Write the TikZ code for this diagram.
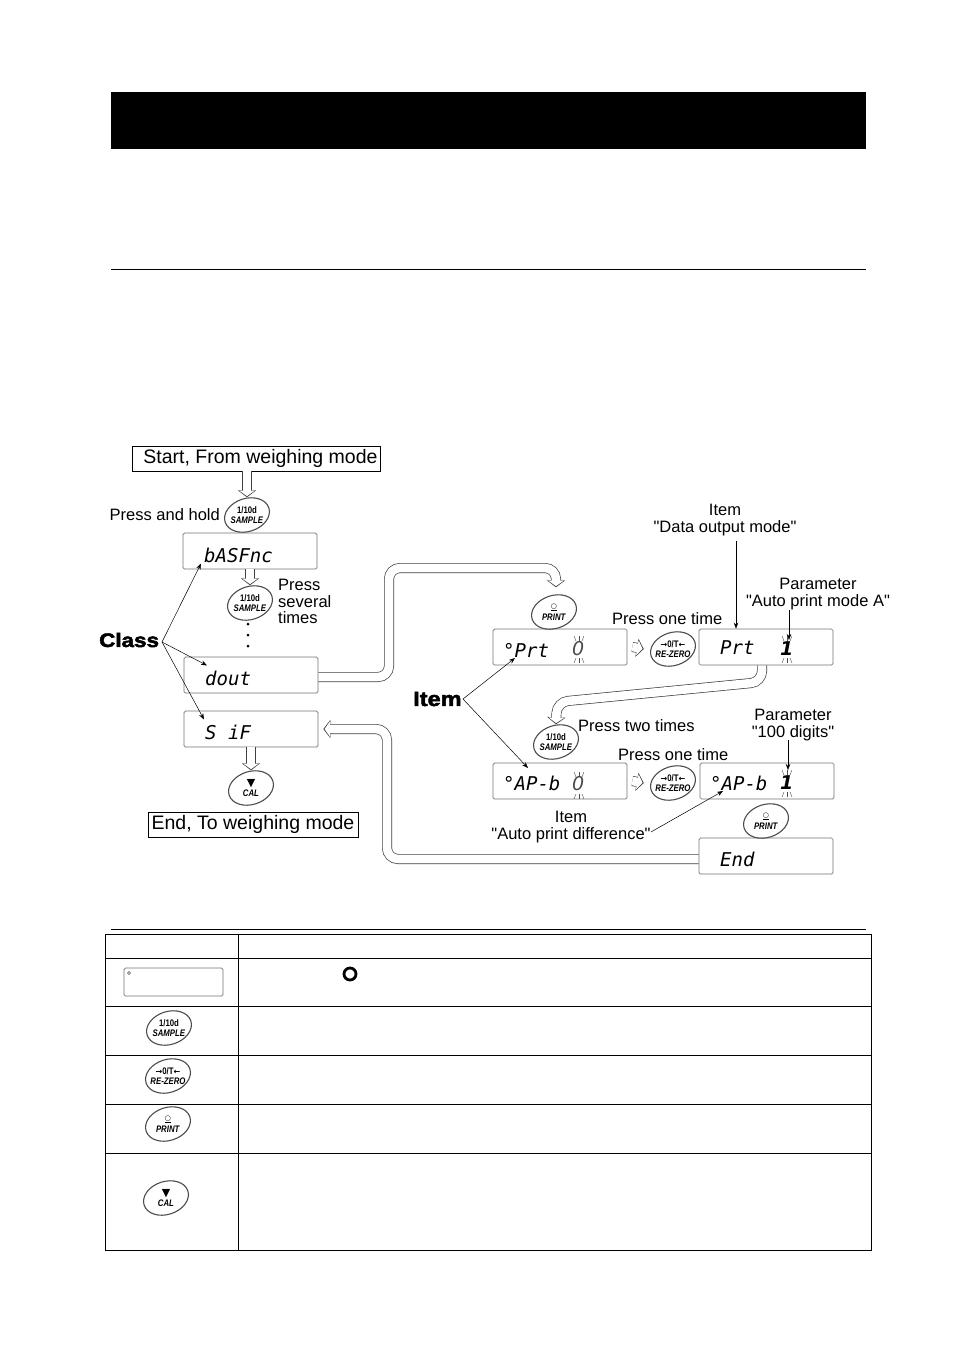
\documentclass[tikz,border=0pt]{standalone}
\usepackage{fontspec}
\setmainfont[Ligatures=TeXOff]{Liberation Sans}
\newfontfamily\segfont{DejaVu Sans Mono}
\newfontfamily\symfont{DejaVu Sans}
\newfontfamily\blackfont[FakeBold=2.5,FakeStretch=1.15]{Liberation Sans Bold}
\newfontfamily\btnfont[FakeStretch=.82]{Liberation Sans}
\usetikzlibrary{arrows.meta}
\newcommand{\sampletext}{1/10d\\\textit{SAMPLE}}
\newcommand{\rezerotext}{{\fontsize{8}{8}\symfont →}0/T{\fontsize{8}{8}\symfont ←}\\\textit{RE-ZERO}}
\newcommand{\printtext}{{\fontsize{7}{7}\symfont\underline{○}}\\[1.5pt]\textit{PRINT}}
\newcommand{\caltext}{{\fontsize{11}{11}\symfont ▼}\\\textit{CAL}}
\tikzset{
    display/.style={draw=black!55, line width=.7pt, rounded corners=1.5pt, fill=white, inner sep=0pt, minimum width=134pt, minimum height=36pt},
    segtext/.style={anchor=west, inner sep=0pt, font=\fontsize{19}{19}\segfont\itshape},
    digitzero/.style={anchor=west, inner sep=0pt, black!70, font=\fontsize{19}{19}\symfont\itshape},
    digitone/.style={anchor=west, inner sep=0pt, font=\fontsize{19}{19}\symfont\bfseries\itshape},
    btn/.style={inner sep=0pt, minimum width=46pt, minimum height=35pt, align=center, font=\fontsize{9.5}{10.5}\btnfont\bfseries},
    btnring/.style={draw=black!70, line width=1.1pt},
    label/.style={inner sep=0pt, align=center, font=\fontsize{16.5}{16.5}\selectfont},
    modebox/.style={draw, line width=.8pt, inner sep=0pt, font=\fontsize{19.5}{19.5}\selectfont},
    pipe/.style={line width=10pt, draw=black!75, rounded corners=11pt, -{Triangle[length=7pt,width=18pt]},
        postaction={draw=white, line width=8.6pt, shorten >=1.2pt, -{Triangle[length=5.4pt,width=15pt]}}},
    pointer/.style={line width=.5pt, -{Stealth[length=6pt,width=4.5pt]}},
    blinktick/.style={line width=.4pt, black!70},
    tablerule/.style={line width=.8pt},
}
\begin{document}
\begin{tikzpicture}[x=1pt, y=-1pt]
        \useasboundingbox (0,0) rectangle (954,1350);
        \fill (111,92) rectangle (866,149);
        \draw[tablerule] (111,269) -- (866,269);
        \draw[tablerule] (111,929) -- (866,929);

        \node[modebox, minimum width=248pt, minimum height=25pt] at (256,458.5) (start) {\hspace{9pt}\raisebox{-1.5pt}{Start, From weighing mode}};
        \node[modebox, minimum width=210pt, minimum height=25pt] at (253,824.5) (finish) {\raisebox{-1pt}{End, To weighing mode}};

        \node[display] at (250,551)   (basfnc) {};
        \node[display] at (251,675)   (dout) {};
        \node[display] at (251,729)   (sif) {};
        \node[display] at (560,647)   (prtzero) {};
        \node[display] at (766,647)   (prtone) {};
        \node[display] at (560,781)   (apbzero) {};
        \node[display] at (767,781)   (apbone) {};
        \node[display] at (766,856)   (endbox) {};

        \node[segtext] at (204,555) (tbasfnc) {bASFnc};
        \node[segtext] at (205,678) (tdout) {dout};
        \node[segtext] at (205,732) (tsif) {S iF};
        \node[segtext] at (503,650) (tprtzero) {°Prt};
        \node[segtext] at (720,648) (tprtone) {Prt};
        \node[segtext] at (503,783) (tapbzero) {°AP-b};
        \node[segtext] at (710,783) (tapbone) {°AP-b};
        \node[segtext] at (720,859) (tend) {End};
        \node[digitzero] at (572,649) (pzero) {0};
        \node[digitone] at (780,649) (pone) {1};
        \node[digitzero] at (572,784) (qzero) {0};
        \node[digitone] at (780,783) (qone) {1};

        \node[btn] at (247,515)   (sampleA) {\sampletext};
        \node[btn] at (250,603)   (sampleB) {\sampletext};
        \node[btn] at (251,788)   (calA) {\caltext};
        \node[btn] at (554,612)   (printA) {\printtext};
        \node[btn] at (673,649)   (rezeroA) {\rezerotext};
        \node[btn] at (556,742)   (sampleC) {\sampletext};
        \node[btn] at (673,783)   (rezeroB) {\rezerotext};
        \node[btn] at (766,821)   (printB) {\printtext};

        \node[label, anchor=east] at (220,515) (hold) {Press and hold};
        \node[label, align=left, anchor=north west] at (278,579) (several) {Press\\[.2pt]several\\[.2pt]times};
        \node[label, anchor=west] at (612,619) (onetimeA) {Press one time};
        \node[label, anchor=west] at (618,755) (onetimeB) {Press one time};
        \node[label, anchor=west] at (578,726) (twotimes) {Press two times};
        \node[label, anchor=west, font=\fontsize{19.5}{19.5}\blackfont] at (99,640) (class) {Class};
        \node[label, anchor=west, font=\fontsize{20.5}{20.5}\blackfont] at (413,699) (item) {Item};
        \node[label] at (725,520) (itemdata) {Item\\"Data output mode"};
        \node[label] at (818,594) (paramA) {Parameter\\"Auto print mode A"};
        \node[label] at (793,725) (paramB) {Parameter\\"100 digits"};
        \node[label] at (571,827) (itemdiff) {Item\\"Auto print difference"};

        \coordinate (dataout) at (736,541);
        \coordinate (paramAout) at (789,610);
        \coordinate (paramBout) at (788,740);
        \coordinate (diffout) at (651,832);
        \coordinate (classout) at (162,642);
        \coordinate (itemout) at (463,699);

        \draw[pipe] (start.south -| sampleA.north) -- (sampleA.north);
        \draw[pipe] (basfnc.south -| sampleB.north) -- (sampleB.north);
        \draw[pipe] (sif.south -| calA.north) -- (calA.north);
        \draw[pipe] ([xshift=5pt]prtzero.east) -- ([xshift=-6pt]rezeroA.west);
        \draw[pipe] ([xshift=5pt]apbzero.east) -- ([xshift=-6pt]rezeroB.west);
        \draw[pipe] ([yshift=-2pt]dout.east) -- (389,677) -- (389,568) -- (556,568) -- ([shift={(2pt,7pt)}]printA.north);
        \draw[pipe] ([xshift=-4pt]prtone.south) -- (762,682) -- (557,702) -- (sampleC.north);
        \draw[pipe] ([yshift=-3pt]endbox.west) -- (387,859) -- (387,729) -- ([xshift=5pt]sif.east);

        \foreach \b in {sampleA,sampleB,calA,printA,rezeroA,sampleC,rezeroB,printB}
            \draw[btnring] (\b.center) ellipse [x radius=23, y radius=16.5, rotate=18];

        \foreach \i in {624,635,646}
            \fill (248,\i) circle (1.5pt);

        \draw[pointer] (classout) -- ([shift={(-3pt,-1pt)}]tbasfnc.south west);
        \draw[pointer] (classout) -- ([shift={(2pt,5pt)}]tdout.north west);
        \draw[pointer] (classout) -- ([shift={(-1pt,5pt)}]tsif.north west);
        \draw[pointer] (itemout) -- (515,658);
        \draw[pointer] (itemout) -- (528,768);
        \draw[pointer] (dataout) -- (dataout |- prtone.north);
        \draw[pointer] (paramAout) -- (789,640);
        \draw[pointer] (paramBout) -- (788,770);
        \draw[pointer] (diffout) -- (723,791);

        \foreach \bx/\by in {579/648,787/648,579/784,787/782}
            \foreach \dx in {-5,0,5} {
                \draw[blinktick] (\bx+\dx,\by-12) -- (\bx+.6*\dx,\by-7);
                \draw[blinktick] (\bx+\dx,\by+15) -- (\bx+.6*\dx,\by+10);
            }

        % table
        \draw[tablerule] (105.5,934) rectangle (871,1250);
        \draw[tablerule] (238,934) -- (238,1250);
        \foreach \y in {958,1006,1055,1104,1153}
            \draw[tablerule] (105.5,\y) -- (871,\y);

        \node[display, minimum width=99pt, minimum height=28pt] at (173.5,982) (keydisplay) {};
        \node[circle, draw=black!70, line width=.4pt, inner sep=0pt, minimum size=3pt] at (129,973) (keydot) {};
        \node[circle, draw, line width=2.8pt, inner sep=0pt, minimum size=12pt] at (350,974) (keyring) {};
        \node[btn] at (169,1028)   (keysample) {\sampletext};
        \node[btn] at (168,1076)   (keyrezero) {\rezerotext};
        \node[btn] at (168,1124)   (keyprint) {\printtext};
        \node[btn] at (166,1198)   (keycal) {\caltext};
        \foreach \b in {keysample,keyrezero,keyprint,keycal}
            \draw[btnring] (\b.center) ellipse [x radius=23, y radius=16.5, rotate=18];
    \end{tikzpicture}
\end{document}
